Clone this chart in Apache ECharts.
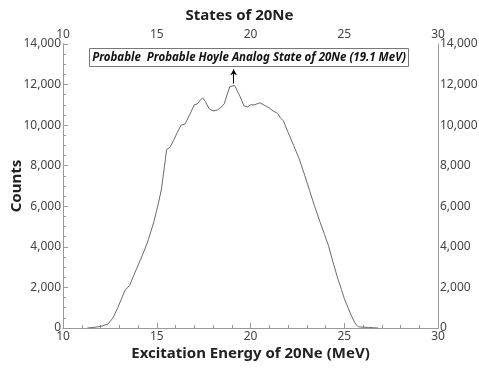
<!DOCTYPE html>
<html>
<head>
<meta charset="utf-8">
<script src="https://cdn.jsdelivr.net/npm/echarts@6/dist/echarts.min.js"></script>
<style>html,body{margin:0;padding:0;background:#fff;}#c{width:479px;height:369px;}</style>
</head>
<body>
<div id="c"></div>
<script>
var energy = [11.3,11.5,11.8,12.1,12.4,12.65,12.9,13.1,13.3,13.55,13.8,14.1,14.35,14.55,14.85,15.1,15.25,15.4,15.53,15.7,15.9,16.1,16.3,16.5,16.6,16.8,17.0,17.15,17.3,17.45,17.6,17.8,18.0,18.25,18.45,18.6,18.75,18.9,19.15,19.2,19.4,19.65,19.85,20.0,20.2,20.5,20.8,21.0,21.2,21.45,21.6,21.75,21.85,22.0,22.3,22.6,22.9,23.15,23.4,23.7,23.95,24.15,24.4,24.65,24.85,25.0,25.2,25.4,25.6,25.75,26.0,26.3,26.6,26.8];
var counts = [0,15,50,100,200,475,950,1400,1850,2100,2650,3300,3850,4350,5250,6200,6850,7900,8800,8900,9250,9650,10000,10050,10220,10600,11000,11040,11200,11350,11150,10800,10700,10750,10900,11050,11500,11900,11950,12000,11500,10950,10900,11000,11000,11100,10950,10850,10700,10580,10350,10220,10200,9650,9000,8330,7500,6780,6050,5250,4600,4080,3250,2450,1900,1460,1000,560,200,60,40,30,10,0];
var xTicks = [10,15,20,25,30];
var yTicks = [0,2000,4000,6000,8000,10000,12000,14000];
var annotationText = 'Probable  Probable Hoyle Analog State of 20Ne (19.1 MeV)';
var arrowFrom = [19.1, 12050];
var arrowTo = [19.1, 12750];

var data = energy.map(function(e,i){return [e, counts[i]];});
var fmt = function(v){return v.toLocaleString('en-US');};
var font = 'Noto Sans';
var chart = echarts.init(document.getElementById('c'), null, {renderer:'canvas'});
chart.setOption({
  animation:false,
  backgroundColor:'#fff',
  textStyle:{fontFamily:font},
  title:{text:'States of 20Ne', left:'center', top:3,
    textStyle:{fontFamily:font, fontSize:15, fontWeight:'bold', color:'#222'}},
  grid:{left:63, right:41, top:44, bottom:41, containLabel:false, outerBoundsMode:'none'},
  xAxis:[{
    type:'value', position:'bottom', min:xTicks[0], max:xTicks[xTicks.length-1], interval:5,
    name:'Excitation Energy of 20Ne (MeV)', nameLocation:'middle', nameGap:18, nameMoveOverlap:false,
    nameTextStyle:{fontFamily:font, fontSize:15, fontWeight:'bold', color:'#222'},
    axisLine:{show:true, lineStyle:{color:'#999'}},
    axisTick:{show:true, inside:true, length:5, lineStyle:{color:'#999'}},
    minorTick:{show:true, splitNumber:5, length:3, lineStyle:{color:'#999'}},
    splitLine:{show:false},
    axisLabel:{fontFamily:font, fontSize:12, color:'#444', margin:3}
  },{
    type:'value', position:'top', min:xTicks[0], max:xTicks[xTicks.length-1], interval:5,
    axisLine:{show:true, lineStyle:{color:'#999'}},
    axisTick:{show:false}, splitLine:{show:false},
    axisLabel:{fontFamily:font, fontSize:12, color:'#444', margin:3}
  }],
  yAxis:[{
    type:'value', position:'left', min:yTicks[0], max:yTicks[yTicks.length-1], interval:2000,
    name:'Counts', nameLocation:'middle', nameGap:39, nameRotate:90, nameMoveOverlap:false,
    nameTextStyle:{fontFamily:font, fontSize:15, fontWeight:'bold', color:'#222'},
    axisLine:{show:true, lineStyle:{color:'#999'}},
    axisTick:{show:true, inside:true, length:5, lineStyle:{color:'#999'}},
    minorTick:{show:true, splitNumber:4, length:3, lineStyle:{color:'#999'}},
    splitLine:{show:false},
    axisLabel:{fontFamily:font, fontSize:12, color:'#444', margin:2, formatter:fmt}
  },{
    type:'value', position:'right', min:yTicks[0], max:yTicks[yTicks.length-1], interval:2000,
    axisLine:{show:true, lineStyle:{color:'#999'}},
    axisTick:{show:false}, splitLine:{show:false},
    axisLabel:{fontFamily:font, fontSize:12, color:'#444', margin:2, formatter:fmt}
  }],
  series:[{
    type:'line', xAxisIndex:0, yAxisIndex:0, data:data, showSymbol:false, smooth:false,
    lineStyle:{color:'#6a6a6a', width:1},
    markLine:{silent:true, symbol:['none','arrow'], symbolSize:[5,6],
      label:{show:false},
      lineStyle:{color:'#000', width:1, type:'solid'},
      data:[[{coord:arrowFrom},{coord:arrowTo}]]}
  }],
  graphic:[{
    type:'rect', shape:{x:89.5, y:48.5, width:319, height:18},
    style:{fill:'#fff', stroke:'#777', lineWidth:1}, z:100
  },{
    type:'text', x:249, y:57.5, z:101,
    style:{text:annotationText, fill:'#111', font:'italic bold 11.5px "Noto Sans"', align:'center', verticalAlign:'middle'}
  }]
});
</script>
</body>
</html>
